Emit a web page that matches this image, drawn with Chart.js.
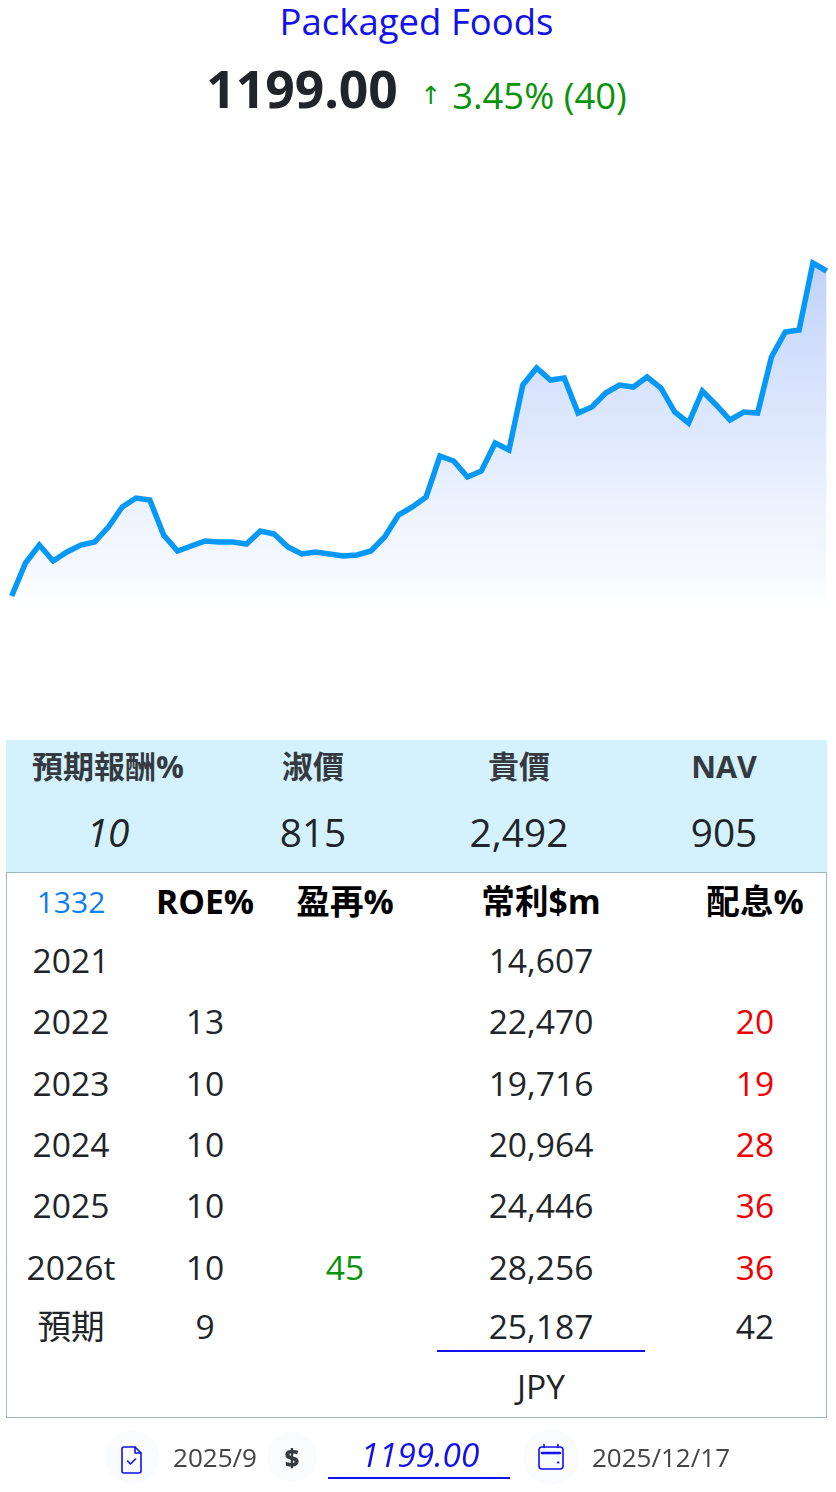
<!DOCTYPE html>
<html><head><meta charset="utf-8">
<script src="https://cdn.jsdelivr.net/npm/chart.js@4/dist/chart.umd.min.js"></script>
<style>
html,body{margin:0;padding:0;background:#fff;width:836px;height:1492px;overflow:hidden}
body{font-family:"Open Sans","Noto Sans CJK TC",sans-serif;position:relative}
.t{position:absolute;transform:translate(-50%,-50%);white-space:nowrap;line-height:1}
.box{position:absolute;box-sizing:border-box}
#wrap{position:absolute;left:0;top:200px;width:836px;height:500px}
</style></head><body>
<div id="wrap"><canvas id="c" role="img" aria-label="Packaged Foods price line"></canvas></div>
<div id="ui"></div>
<script>
const title="Packaged Foods", price="1199.00", arrow="↑", change="3.45% (40)";
const priceSeries=[874,907,925,909,918,925,928,943,963,972,970,935,919,924,929,928,928,926,939,936,923,916,918,916,914,915,919,933,955,963,973,1014,1009,993,999,1027,1020,1085,1102,1090,1092,1057,1063,1077,1085,1083,1093,1082,1058,1047,1079,1065,1050,1058,1057,1113,1138,1140,1207,1199];
const weeks=priceSeries.map((_,i)=>String(i+1));
const valHeads=["預期報酬%","淑價","貴價","NAV"];
const valValues=["10","815","2,492","905"];
const tableHead=["1332","ROE%","盈再%","常利$m","配息%"];
const years=["2021","2022","2023","2024","2025","2026t","預期"];
const roe=["","13","10","10","10","10","9"];
const reinvest=["","","","","","45",""];
const profit=["14,607","22,470","19,716","20,964","24,446","28,256","25,187"];
const payout=["","20","19","28","36","36","42"];
const currency="JPY", reportMonth="2025/9", priceDate="2025/12/17";

const ui=document.getElementById('ui');
function T(s,x,y,size,color,extra){const d=document.createElement('div');d.className='t';d.textContent=s;
 d.style.cssText=`left:${x}px;top:${y}px;font-size:${size}px;color:${color};${extra||''}`;ui.appendChild(d);return d}
function B(x,y,w,h,css){const d=document.createElement('div');d.className='box';
 d.style.cssText=`left:${x}px;top:${y}px;width:${w}px;height:${h}px;${css}`;ui.appendChild(d);return d}

const blue='#1212ee';
T(title,416.500,21,36.500,blue);
T(price,302,89,51.600,'#212529','font-weight:700');
T(arrow,431,95,25,'#0a930a','font-family:"DejaVu Sans";font-weight:400');
T(change,539.500,95,36.400,'#0a930a');

B(6,740,821,132,'background:#d4f2fe');
const vx=[108,313,519,724];
valHeads.forEach((s,i)=>T(s,vx[i],766,i==3?30.500:31,'#343a40','font-weight:700'));
valValues.forEach((s,i)=>T(s,vx[i],832,38.800,'#212529',i==0?'font-style:italic':''));

B(6,872,821,546,'border:1.5px solid #9fb6c2');
const cx=[71,205,345,541,755], rowY=[961,1022,1084,1145,1206,1268,1327];
tableHead.forEach((s,i)=>T(s,cx[i],902,i==0?30:33.600,i==0?'#0d7bf2':'#000',i==0?'':'font-weight:700'));
years.forEach((s,i)=>T(s,cx[0],rowY[i],33.600,'#212529'));
roe.forEach((s,i)=>T(s,cx[1],rowY[i],33.600,'#212529'));
reinvest.forEach((s,i)=>T(s,cx[2],rowY[i],33.600,'#0a930a'));
profit.forEach((s,i)=>T(s,cx[3],rowY[i],33.600,'#212529'));
payout.forEach((s,i)=>T(s,cx[4],rowY[i],33.600,i==6?'#212529':'#f00000'));
B(437,1350,208,2,'background:'+blue);
T(currency,541,1387,33.600,'#212529');

[[132,1457,27],[292,1457,25],[551,1457,28]].forEach(c=>B(c[0]-c[2],c[1]-c[2],c[2]*2,c[2]*2,'border-radius:50%;background:#fafbfc'));
const svgA=document.createElement('div');
svgA.innerHTML=`<svg width="836" height="1492" style="position:absolute;left:0;top:0" fill="none" stroke="${blue}" stroke-width="1.6" stroke-linejoin="round" stroke-linecap="round">
<path d="M124 1447h11l6 6v18a2 2 0 0 1-2 2h-15a2 2 0 0 1-2-2v-22a2 2 0 0 1 2-2z"/><path d="M135 1447v6h6"/><path d="M127.500 1461l3 3 5-5"/>
<rect x="539" y="1447" width="24" height="22" rx="3"/><path d="M544 1444.500v3M558 1444.500v3"/><path d="M542 1453h18" stroke-width="2.600"/><path d="M558 1462.500h.5" stroke-width="2"/></svg>`;
ui.appendChild(svgA);
T(reportMonth,215,1457,26,'#444');
T('$',292,1457,25,'#343a40','font-weight:800');
T(price,420,1455,33.400,blue,'font-style:italic');
B(328,1477,182,2,'background:'+blue);
T(priceDate,661,1457,26,'#444');

new Chart(document.getElementById('c'),{
 type:'line',
 data:{labels:weeks,datasets:[{data:priceSeries,borderColor:'#0598f6',borderWidth:5.500,pointRadius:0,tension:0,
  borderJoinStyle:'miter',borderCapStyle:'butt',fill:'start',
  backgroundColor:ctx=>{const a=ctx.chart.chartArea;if(!a)return 'transparent';
    const y=ctx.chart.scales.y;
    const g=ctx.chart.ctx.createLinearGradient(0,y.getPixelForValue(1207),0,y.getPixelForValue(845));
    g.addColorStop(0,'rgba(170,195,250,0.75)');g.addColorStop(.5,'rgba(200,217,252,.55)');g.addColorStop(.85,'rgba(225,235,254,.32)');g.addColorStop(1,'rgba(255,255,255,0)');return g;}
 }]},
 options:{responsive:true,maintainAspectRatio:false,animation:false,
  layout:{padding:{left:11.7,right:9.3,top:0,bottom:0}},
  plugins:{legend:{display:false},tooltip:{enabled:false}},
  scales:{x:{display:false},y:{display:false,min:770,max:1270}}}
});
</script></body></html>
